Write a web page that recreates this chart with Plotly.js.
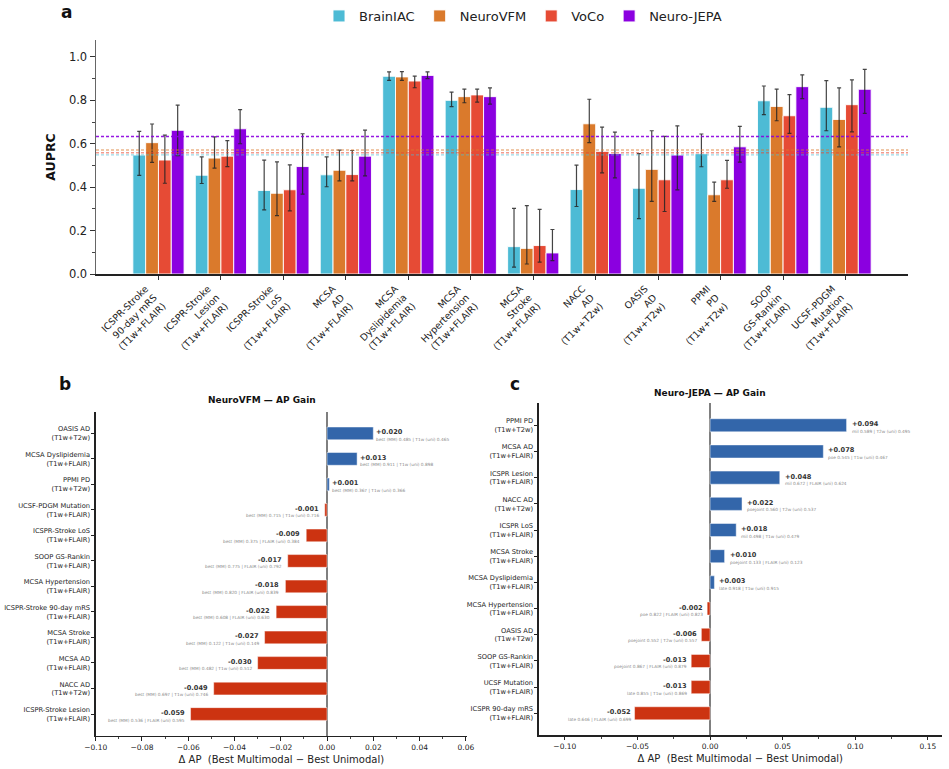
<!DOCTYPE html>
<html><head><meta charset="utf-8">
<script src="https://cdn.plot.ly/plotly-3.0.1.min.js"></script>
<style>html,body{margin:0;padding:0;background:#fff}#chart{width:949px;height:769px}</style>
</head><body><div id="chart"></div>
<script>
// ---------- Panel a data ----------
const categories = [
  "ICSPR-Stroke<br>90-day mRS<br>(T1w+FLAIR)",
  "ICSPR-Stroke<br>Lesion<br>(T1w+FLAIR)",
  "ICSPR-Stroke<br>LoS<br>(T1w+FLAIR)",
  "MCSA<br>AD<br>(T1w+FLAIR)",
  "MCSA<br>Dyslipidemia<br>(T1w+FLAIR)",
  "MCSA<br>Hypertension<br>(T1w+FLAIR)",
  "MCSA<br>Stroke<br>(T1w+FLAIR)",
  "NACC<br>AD<br>(T1w+T2w)",
  "OASIS<br>AD<br>(T1w+T2w)",
  "PPMI<br>PD<br>(T1w+T2w)",
  "SOOP<br>GS-Rankin<br>(T1w+FLAIR)",
  "UCSF-PDGM<br>Mutation<br>(T1w+FLAIR)"
];
const modelNames = ["BrainIAC", "NeuroVFM", "VoCo", "Neuro-JEPA"];
const modelColors = ["#4DBBD5", "#DA7A2C", "#E64B35", "#8B00E0"];

const brainiacAP = [0.548, 0.455, 0.385, 0.457, 0.911, 0.800, 0.126, 0.389, 0.395, 0.554, 0.798, 0.768];
const brainiacLo = [0.454, 0.417, 0.295, 0.402, 0.892, 0.771, 0.032, 0.311, 0.255, 0.494, 0.734, 0.660];
const brainiacHi = [0.657, 0.540, 0.525, 0.540, 0.931, 0.838, 0.302, 0.502, 0.555, 0.645, 0.866, 0.891];

const neurovfmAP = [0.605, 0.534, 0.372, 0.478, 0.908, 0.817, 0.118, 0.692, 0.482, 0.365, 0.772, 0.712];
const neurovfmLo = [0.514, 0.488, 0.269, 0.429, 0.892, 0.789, 0.046, 0.605, 0.335, 0.335, 0.706, 0.586];
const neurovfmHi = [0.691, 0.632, 0.517, 0.571, 0.932, 0.852, 0.315, 0.805, 0.660, 0.423, 0.852, 0.857];

const vocoAP = [0.525, 0.543, 0.388, 0.458, 0.889, 0.825, 0.131, 0.565, 0.434, 0.434, 0.729, 0.780];
const vocoLo = [0.418, 0.495, 0.291, 0.429, 0.858, 0.792, 0.055, 0.466, 0.288, 0.395, 0.648, 0.655];
const vocoHi = [0.640, 0.614, 0.503, 0.569, 0.912, 0.852, 0.298, 0.677, 0.634, 0.523, 0.826, 0.894];

const jepaAP = [0.662, 0.669, 0.495, 0.543, 0.915, 0.817, 0.097, 0.555, 0.548, 0.586, 0.863, 0.851];
const jepaLo = [0.545, 0.600, 0.368, 0.452, 0.900, 0.783, 0.062, 0.443, 0.388, 0.515, 0.808, 0.740];
const jepaHi = [0.778, 0.757, 0.646, 0.663, 0.931, 0.857, 0.205, 0.654, 0.682, 0.680, 0.917, 0.943];

// ---------- Panel b data (NeuroVFM AP gain) ----------
const bTasks = [
  "OASIS AD<br>(T1w+T2w)", "MCSA Dyslipidemia<br>(T1w+FLAIR)", "PPMI PD<br>(T1w+T2w)",
  "UCSF-PDGM Mutation<br>(T1w+FLAIR)", "ICSPR-Stroke LoS<br>(T1w+FLAIR)", "SOOP GS-Rankin<br>(T1w+FLAIR)",
  "MCSA Hypertension<br>(T1w+FLAIR)", "ICSPR-Stroke 90-day mRS<br>(T1w+FLAIR)", "MCSA Stroke<br>(T1w+FLAIR)",
  "MCSA AD<br>(T1w+FLAIR)", "NACC AD<br>(T1w+T2w)", "ICSPR-Stroke Lesion<br>(T1w+FLAIR)"
];
const bDelta = [0.020, 0.013, 0.001, -0.001, -0.009, -0.017, -0.018, -0.022, -0.027, -0.030, -0.049, -0.059];
const bMM = [0.485, 0.911, 0.367, 0.715, 0.375, 0.775, 0.820, 0.608, 0.122, 0.482, 0.697, 0.536];
const bUniMod = ["T1w", "T1w", "T1w", "T1w", "FLAIR", "FLAIR", "FLAIR", "FLAIR", "T1w", "T1w", "T1w", "FLAIR"];
const bUni = [0.465, 0.898, 0.366, 0.716, 0.384, 0.792, 0.839, 0.630, 0.149, 0.512, 0.746, 0.595];

// ---------- Panel c data (Neuro-JEPA AP gain) ----------
const cTasks = [
  "PPMI PD<br>(T1w+T2w)", "MCSA AD<br>(T1w+FLAIR)", "ICSPR Lesion<br>(T1w+FLAIR)",
  "NACC AD<br>(T1w+T2w)", "ICSPR LoS<br>(T1w+FLAIR)", "MCSA Stroke<br>(T1w+FLAIR)",
  "MCSA Dyslipidemia<br>(T1w+FLAIR)", "MCSA Hypertension<br>(T1w+FLAIR)", "OASIS AD<br>(T1w+T2w)",
  "SOOP GS-Rankin<br>(T1w+FLAIR)", "UCSF Mutation<br>(T1w+FLAIR)", "ICSPR 90-day mRS<br>(T1w+FLAIR)"
];
const cDelta = [0.094, 0.078, 0.048, 0.022, 0.018, 0.010, 0.003, -0.002, -0.006, -0.013, -0.013, -0.052];
const cMethod = ["mil", "poe", "mil", "poejoint", "mil", "poejoint", "late", "poe", "poejoint", "poejoint", "late", "late"];
const cMM = [0.589, 0.545, 0.672, 0.560, 0.498, 0.133, 0.918, 0.822, 0.552, 0.867, 0.855, 0.646];
const cUniMod = ["T2w", "T1w", "FLAIR", "T2w", "T1w", "FLAIR", "T1w", "FLAIR", "T2w", "FLAIR", "T1w", "FLAIR"];
const cUni = [0.495, 0.467, 0.624, 0.537, 0.479, 0.123, 0.915, 0.823, 0.557, 0.879, 0.869, 0.699];

// ---------- build ----------
const FONT = "DejaVu Sans, Liberation Sans, sans-serif";
const POS = "#3366AA", NEG = "#CC3311";
const apSets = [
  [brainiacAP, brainiacLo, brainiacHi],
  [neurovfmAP, neurovfmLo, neurovfmHi],
  [vocoAP, vocoLo, vocoHi],
  [jepaAP, jepaLo, jepaHi]
];

const traces = [];
const shapes = [];
apSets.forEach(([v, lo, hi], i) => {
  traces.push({
    type: "bar", name: modelNames[i], x: categories, y: v, xaxis: "x", yaxis: "y",
    marker: {color: modelColors[i], line: {color: "rgba(255,255,255,0.9)", width: 1}},
    error_y: {type: "data", symmetric: false,
      array: v.map((d, k) => hi[k] - d), arrayminus: v.map((d, k) => d - lo[k]),
      color: "rgba(35,35,35,0.85)", thickness: 1.2, width: 2},
    hoverinfo: "y+name"
  });
  const mean = v.reduce((a, b) => a + b, 0) / v.length;
  shapes.push({type: "line", xref: "x domain", x0: 0, x1: 1, yref: "y", y0: mean, y1: mean,
    line: {color: modelColors[i], width: 1.4, dash: "3px,2px"}, opacity: i === 3 ? 0.9 : 0.55, layer: "above"});
});

traces.push({type: "bar", orientation: "h", x: bDelta, y: bTasks, xaxis: "x2", yaxis: "y2", width: 0.5,
  marker: {color: bDelta.map(d => d >= 0 ? POS : NEG), line: {color: "rgba(255,255,255,0.6)", width: 0.8}},
  showlegend: false});
traces.push({type: "bar", orientation: "h", x: cDelta, y: cTasks, xaxis: "x3", yaxis: "y3", width: 0.5,
  marker: {color: cDelta.map(d => d >= 0 ? POS : NEG), line: {color: "rgba(255,255,255,0.6)", width: 0.8}},
  showlegend: false});

const fmt = d => (d >= 0 ? "+" : "") + d.toFixed(3);
const annotations = [];
function gainLabels(delta, tasks, detail, xr, yr, posShift, negShift) {
  delta.forEach((d, k) => {
    const pos = d >= 0;
    annotations.push({xref: xr, yref: yr, x: d, y: tasks[k], text: "<b>" + fmt(d) + "</b>",
      showarrow: false, xanchor: pos ? "left" : "right", yanchor: "middle",
      xshift: pos ? posShift : negShift, yshift: 1, font: {family: FONT, size: 6.6, color: "#333"}});
    annotations.push({xref: xr, yref: yr, x: d, y: tasks[k], text: detail(k),
      showarrow: false, xanchor: pos ? "left" : "right", yanchor: "middle",
      xshift: pos ? posShift : negShift, yshift: -6.5, font: {family: FONT, size: 4.3, color: "#8a8a8a"}});
  });
}
gainLabels(bDelta, bTasks, k => "best (MM) " + bMM[k].toFixed(3) + " | " + bUniMod[k] + " (uni) " + bUni[k].toFixed(3),
  "x2", "y2", 1, -4);
gainLabels(cDelta, cTasks, k => cMethod[k] + " " + cMM[k].toFixed(3) + " | " + cUniMod[k] + " (uni) " + cUni[k].toFixed(3),
  "x3", "y3", 3, -2);

const panel = (t, x, y) => ({xref: "paper", yref: "paper", x: x, y: y, text: "<b>" + t + "</b>", showarrow: false,
  xanchor: "center", yanchor: "middle", font: {family: FONT, size: 17, color: "#111"}});
annotations.push(panel("a", 66 / 949, 1 - 12 / 769));
annotations.push(panel("b", 65 / 949, 1 - 384 / 769));
annotations.push(panel("c", 515 / 949, 1 - 384 / 769));
annotations.push({xref: "paper", yref: "paper", x: 262 / 949, y: 1 - 400 / 769, text: "<b>NeuroVFM — AP Gain</b>",
  showarrow: false, xanchor: "center", yanchor: "middle", font: {family: FONT, size: 9, color: "#111"}});
annotations.push({xref: "paper", yref: "paper", x: 710 / 949, y: 1 - 393 / 769, text: "<b>Neuro-JEPA — AP Gain</b>",
  showarrow: false, xanchor: "center", yanchor: "middle", font: {family: FONT, size: 9, color: "#111"}});

const dTitle = "Δ AP\u00a0\u00a0(Best Multimodal − Best Unimodal)";
const gainX = (dom, range, dtick, mdtick) => ({
  domain: dom, range: range, dtick: dtick, tick0: 0, tickformat: ".2f", showgrid: false,
  ticks: "outside", ticklen: 3.5, tickwidth: 1, tickcolor: "#222",
  minor: {dtick: mdtick, tick0: 0, ticks: "outside", ticklen: 2, tickcolor: "#444"},
  showline: true, linecolor: "#222", linewidth: 1.3, mirror: false,
  zeroline: true, zerolinecolor: "#7f7f7f", zerolinewidth: 1.5,
  tickfont: {family: FONT, size: 7.5, color: "#222"},
  title: {text: dTitle, font: {family: FONT, size: 10, color: "#222"}, standoff: 5}
});
const gainY = (dom, range) => ({
  domain: dom, type: "category", range: range, showgrid: false, zeroline: false,
  ticks: "outside", ticklen: 3, tickcolor: "#222", showline: true, linecolor: "#222", linewidth: 1.3,
  tickfont: {family: FONT, size: 6.7, color: "#222"}
});

const layout = {
  width: 949, height: 769, margin: {l: 0, r: 0, t: 0, b: 0},
  paper_bgcolor: "#fff", plot_bgcolor: "#fff",
  font: {family: FONT, color: "#222"},
  barmode: "group", bargap: 0.18, bargroupgap: 0,
  showlegend: true,
  legend: {orientation: "h", x: 523 / 949, xanchor: "center", y: 1 - 16 / 769, yanchor: "middle",
    font: {family: FONT, size: 13, color: "#222"}, bgcolor: "rgba(0,0,0,0)", itemwidth: 30},
  xaxis: {domain: [96 / 949, 908 / 949], anchor: "y", type: "category", range: [-1, 12],
    tickangle: -45, ticks: "outside", ticklen: 4, tickcolor: "#333", showgrid: false,
    ticklabelshift: -13,
    showline: true, linecolor: "#222", linewidth: 1.5,
    tickfont: {family: FONT, size: 9.5, color: "#222"}},
  yaxis: {domain: [1 - 274 / 769, 1 - 40 / 769], anchor: "x", range: [0, 1.078], dtick: 0.2, tick0: 0,
    tickformat: ".1f", ticks: "outside", ticklen: 5, tickcolor: "#333", showgrid: false, zeroline: false,
    minor: {dtick: 0.1, tick0: 0, ticks: "outside", ticklen: 3, tickcolor: "#444"},
    showline: true, linecolor: "#666", linewidth: 1.5,
    tickfont: {family: FONT, size: 11.5, color: "#222"},
    title: {text: "<b>AUPRC</b>", font: {family: FONT, size: 12.5, color: "#111"}, standoff: 10}},
  xaxis2: Object.assign(gainX([95.7 / 949, 467 / 949], [-0.1, 0.0605], 0.02, 0.01), {anchor: "y2"}),
  yaxis2: Object.assign(gainY([1 - 735.7 / 769, 1 - 411.7 / 769], [11.85, -0.85]), {anchor: "x2"}),
  xaxis3: Object.assign(gainX([538.7 / 949, 941.7 / 949], [-0.118, 0.1595], 0.05, 0.025), {anchor: "y3"}),
  yaxis3: Object.assign(gainY([1 - 735.3 / 769, 1 - 403.3 / 769], [11.84, -0.84]), {anchor: "x3"}),
  shapes: shapes,
  annotations: annotations
};

Plotly.newPlot("chart", traces, layout, {staticPlot: true, displayModeBar: false});
</script>
</body></html>
